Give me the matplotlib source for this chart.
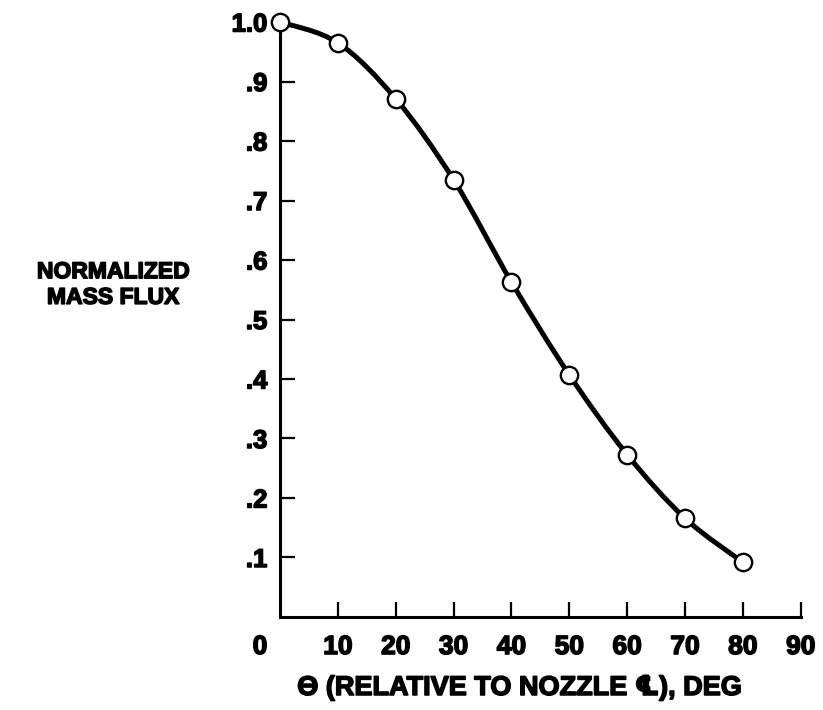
import matplotlib
matplotlib.use("Agg")
import matplotlib.pyplot as plt
import matplotlib.patheffects as pe
from matplotlib.path import Path
from matplotlib.patches import PathPatch
from matplotlib.transforms import ScaledTranslation

plt.rcParams['font.family'] = ['Liberation Sans', 'DejaVu Sans']
plt.rcParams['font.weight'] = 'bold'

# normalized mass flux vs angle from nozzle centerline
theta = [0, 10, 20, 30, 40, 50, 60, 70, 80]
mass_flux = [1.0, 0.965, 0.871, 0.735, 0.563, 0.407, 0.273, 0.166, 0.092]

xticks = [0, 10, 20, 30, 40, 50, 60, 70, 80, 90]
xtick_labels = ["0", "10", "20", "30", "40", "50", "60", "70", "80", "90"]
yticks = [0.1, 0.2, 0.3, 0.4, 0.5, 0.6, 0.7, 0.8, 0.9, 1.0]
ytick_labels = [".1", ".2", ".3", ".4", ".5", ".6", ".7", ".8", ".9", "1.0"]

heavy = [pe.withStroke(linewidth=1.1, foreground='k')]

fig = plt.figure(figsize=(8.23, 7.10), dpi=100)
ax = fig.add_axes([0.3402, 0.131, 0.6327, 0.838])

# smooth curve through the points (Catmull-Rom as cubic Bezier segments)
verts = [(theta[0], mass_flux[0])]
codes = [Path.MOVETO]
n = len(theta)
for i in range(n - 1):
    x0, y0 = theta[max(i - 1, 0)], mass_flux[max(i - 1, 0)]
    x1, y1 = theta[i], mass_flux[i]
    x2, y2 = theta[i + 1], mass_flux[i + 1]
    x3, y3 = theta[min(i + 2, n - 1)], mass_flux[min(i + 2, n - 1)]
    verts += [(x1 + (x2 - x0) / 6, y1 + (y2 - y0) / 6),
              (x2 - (x3 - x1) / 6, y2 - (y3 - y1) / 6),
              (x2, y2)]
    codes += [Path.CURVE4] * 3
ax.add_patch(PathPatch(Path(verts, codes), fc='none', ec='k', lw=3.6,
                       zorder=2, clip_on=False, capstyle='round'))
ax.plot(theta, mass_flux, 'o', ms=12.5, mfc='white', mec='k', mew=1.7,
        zorder=3, clip_on=False)

ax.set_xlim(0, 90)
ax.set_ylim(0, 1.0)

for s in ['top', 'right']:
    ax.spines[s].set_visible(False)
for s in ['left', 'bottom']:
    ax.spines[s].set_linewidth(2.2)

ax.set_xticks(xticks)
ax.set_xticklabels(xtick_labels, fontsize=19, fontweight='bold')
ax.set_yticks(yticks)
ax.set_yticklabels(ytick_labels, fontsize=18.5, fontweight='bold')
ax.tick_params(axis='x', direction='in', length=11, width=1.6, pad=13)
ax.tick_params(axis='y', direction='in', length=11, width=1.6, pad=9)
for lab in ax.get_xticklabels() + ax.get_yticklabels():
    lab.set_path_effects(heavy)

# no tick mark under the 1.0 point, and the "0" label sits left of the axis
ax.yaxis.get_major_ticks()[-1].tick1line.set_visible(False)
ax.xaxis.get_major_ticks()[0].tick1line.set_visible(False)
lab0 = ax.xaxis.get_major_ticks()[0].label1
lab0.set_transform(lab0.get_transform() + ScaledTranslation(-0.20, 0, fig.dpi_scale_trans))

fig.text(113/823, 1 - 284.5/710, "NORMALIZED\nMASS FLUX", ha='center', va='center',
         multialignment='center', fontsize=16.5, fontweight='bold', linespacing=1.15,
         path_effects=heavy)
fig.text(520/823, 1 - 688/710, "\u0398 (RELATIVE TO NOZZLE \u2104), DEG",
         ha='center', va='center', fontsize=19.5, fontweight='bold',
         path_effects=heavy)

fig.savefig("out.png", dpi=100)
